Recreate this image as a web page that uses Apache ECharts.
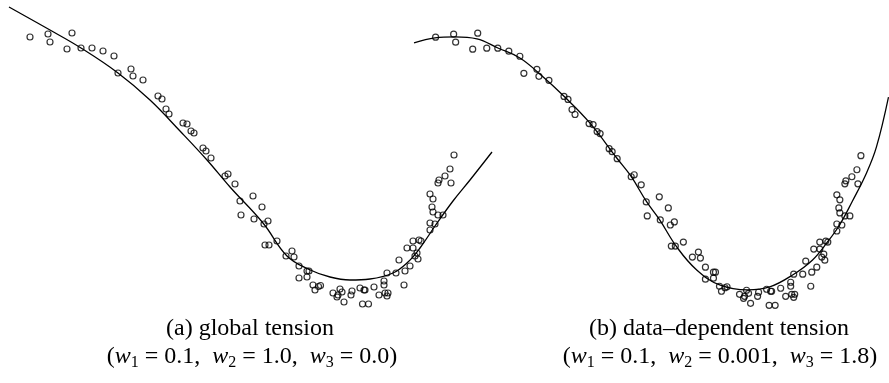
<!DOCTYPE html>
<html>
<head>
<meta charset="utf-8">
<script src="https://cdn.jsdelivr.net/npm/echarts@6/dist/echarts.min.js"></script>
<style>
html, body { margin: 0; padding: 0; background: #fff; }
#chart { width: 889px; height: 383px; }
</style>
</head>
<body>
<div id="chart"></div>
<script>
// sample points (same data in both panels)
const pointX = [30, 48, 50, 72, 67, 81, 92, 103, 114, 118, 131, 133, 143, 158, 162, 166, 169, 183, 187, 191,
  194, 203, 206, 211, 225, 228, 235, 253, 240, 262, 241, 254, 268, 264, 265, 269, 277, 292, 294, 286,
  299, 307, 309, 307, 299, 313, 315, 318.5, 320.5, 333, 340, 342, 338, 337, 344, 352, 351, 360, 364, 365,
  362.5, 368.5, 374, 384, 384, 379, 385, 388, 387, 396, 387, 404, 399, 405, 410, 407, 413, 413, 415, 417,
  418, 419, 421, 430, 430, 435, 432, 433, 438, 443, 430, 433, 438, 439, 445, 450, 451, 454];
const pointY = [37, 34, 42, 33, 49, 48, 48, 51, 56, 73, 69, 76, 80, 96, 99, 109, 114, 123, 124, 131,
  133, 148, 151, 158, 176, 174, 184, 196, 201, 207, 215, 219, 221, 224, 245, 245, 241, 251, 257, 256,
  266, 271, 271, 277, 278, 285, 290, 286.5, 285.5, 293, 289, 292, 295, 297, 302, 291, 295, 288, 290, 290,
  304, 304, 287, 281, 285, 295, 293, 293, 296, 273, 273, 285, 260, 271, 266, 248, 241, 248, 256, 253,
  259, 240, 241, 230, 223, 224, 207, 212, 215, 215, 194, 199, 183, 180, 176, 169, 183, 155];

// (a) global tension fit
const curveAX = [9, 50, 81, 118, 150, 180, 207, 230, 263, 287, 308, 330, 350, 370, 393, 408, 420, 435, 453, 470, 492];
const curveAY = [7, 30, 48, 73, 100, 131, 160, 187, 223, 256, 269, 277, 280, 279, 273, 262, 248, 226, 201, 180, 152];

// (b) data-dependent tension fit
const curveBX = [8.5, 29.4, 49.3, 71.2, 92.1, 114, 133.9, 158.8, 183.7, 210.6, 224.6, 240.5, 253.4, 270.4, 290.3,
  313.2, 341.1, 363, 385.9, 405.8, 420.7, 432.7, 445.6, 459.6, 469.5, 481.5];
const curveBY = [42.8, 37.8, 36.8, 38.8, 47.8, 57.7, 73.7, 96.6, 122.4, 157.3, 175.2, 201.1, 219, 245.9, 268.8,
  283.7, 288.7, 285.7, 273.8, 258.8, 240.9, 224, 200.1, 172.2, 146.3, 96.6];

const captionA = ["(a) global tension", ["0.1", "1.0", "0.0"]];
const captionB = ["(b) data\u2013dependent tension", ["0.1", "0.001", "1.8"]];

const serif = "'Liberation Serif', 'DejaVu Serif', serif";

const pts = pointX.map((x, i) => [x, pointY[i]]);
const lineA = curveAX.map((x, i) => [x, curveAY[i]]);
const lineB = curveBX.map((x, i) => [x, curveBY[i]]);

function weights(vals) {
  return "{t|(}" + vals.map((v, i) => "{w|w}{s|" + (i + 1) + "}{t| = " + v + "}").join("{t|,  }") + "{t|)}";
}

const rich = {
  t: { fontFamily: serif, fontSize: 24, lineHeight: 28, color: "#000" },
  w: { fontFamily: serif, fontSize: 24, lineHeight: 28, fontStyle: "italic", color: "#000" },
  s: { fontFamily: serif, fontSize: 16, lineHeight: 16, verticalAlign: "bottom", color: "#000" },
};

function caption(x, y, text) {
  return {
    type: "text",
    x: x,
    y: y,
    style: {
      text: text,
      font: "24px " + serif,
      fill: "#000",
      align: "center",
      verticalAlign: "middle",
      rich: rich,
    },
  };
}

const dot = {
  symbol: "circle",
  symbolSize: 6,
  itemStyle: { color: "rgba(0,0,0,0)", borderColor: "#000", borderWidth: 1.2 },
};

let chart = echarts.init(document.getElementById("chart"));
chart.setOption({
  animation: false,
  grid: [
    { left: 0, top: 0, width: 500, height: 320 },
    { left: 405.5, top: 0, width: 484, height: 321.4 },
  ],
  xAxis: [
    { type: "value", gridIndex: 0, min: 0, max: 500, show: false },
    { type: "value", gridIndex: 1, min: 0, max: 482, show: false },
  ],
  yAxis: [
    { type: "value", gridIndex: 0, min: 0, max: 320, inverse: true, show: false },
    { type: "value", gridIndex: 1, min: 0, max: 320, inverse: true, show: false },
  ],
  series: [
    { type: "line", xAxisIndex: 0, yAxisIndex: 0, data: lineA, smooth: 0.4, symbol: "none",
      lineStyle: { color: "#000", width: 1.3 } },
    Object.assign({ type: "scatter", xAxisIndex: 0, yAxisIndex: 0, data: pts }, dot),
    { type: "line", xAxisIndex: 1, yAxisIndex: 1, data: lineB, smooth: 0.4, symbol: "none",
      lineStyle: { color: "#000", width: 1.3 } },
    Object.assign({ type: "scatter", xAxisIndex: 1, yAxisIndex: 1, data: pts }, dot),
  ],
  graphic: [
    caption(250, 329, "{t|" + captionA[0] + "}"),
    caption(252, 357, weights(captionA[1])),
    caption(719, 329, "{t|" + captionB[0] + "}"),
    caption(720, 357, weights(captionB[1])),
  ],
});
</script>
</body>
</html>
